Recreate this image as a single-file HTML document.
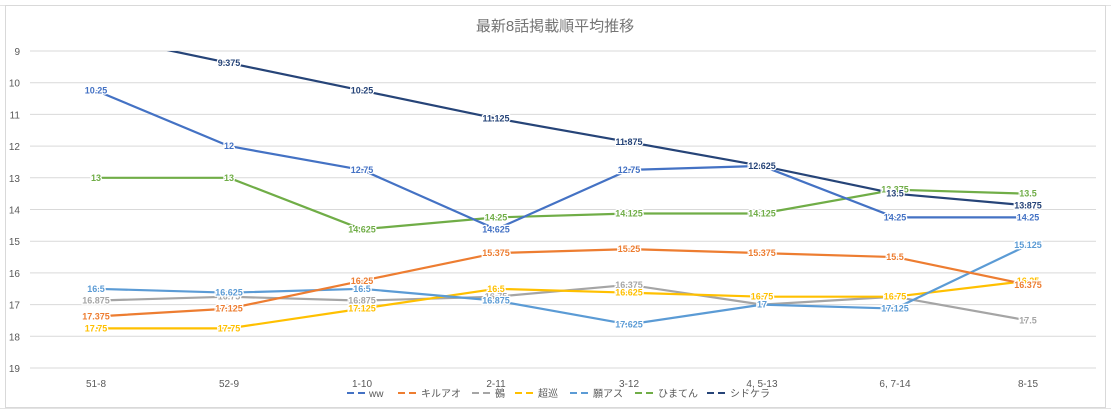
<!DOCTYPE html><html><head><meta charset="utf-8"><style>body{margin:0;background:#fff}svg{display:block}text{font-family:"Liberation Sans","Noto Sans CJK JP",sans-serif}</style></head><body>
<svg width="1111" height="413" viewBox="0 0 1111 413">
<rect x="0" y="0" width="1111" height="413" fill="#fff"/>
<g stroke="#e3e3e3" stroke-width="1">
<line x1="0" y1="5.5" x2="1111" y2="5.5"/><line x1="0" y1="408.5" x2="1111" y2="408.5"/>
</g>
<rect x="5.5" y="5.5" width="1100" height="402" fill="#fff" stroke="#d9d9d9"/>
<text x="555" y="31" font-size="15" fill="#757575" text-anchor="middle">最新8話掲載順平均推移</text>
<g stroke="#d9d9d9" stroke-width="1">
<line x1="30" y1="51" x2="1096" y2="51"/><line x1="30" y1="82.7" x2="1096" y2="82.7"/><line x1="30" y1="114.4" x2="1096" y2="114.4"/><line x1="30" y1="146.1" x2="1096" y2="146.1"/><line x1="30" y1="177.8" x2="1096" y2="177.8"/><line x1="30" y1="209.5" x2="1096" y2="209.5"/><line x1="30" y1="241.2" x2="1096" y2="241.2"/><line x1="30" y1="272.9" x2="1096" y2="272.9"/><line x1="30" y1="304.6" x2="1096" y2="304.6"/><line x1="30" y1="336.3" x2="1096" y2="336.3"/><line x1="30" y1="368" x2="1096" y2="368"/>
</g>
<g font-size="10" fill="#595959" text-anchor="end">
<text x="20" y="55">9</text><text x="20" y="86.7">10</text><text x="20" y="118.4">11</text><text x="20" y="150.1">12</text><text x="20" y="181.8">13</text><text x="20" y="213.5">14</text><text x="20" y="245.2">15</text><text x="20" y="276.9">16</text><text x="20" y="308.6">17</text><text x="20" y="340.3">18</text><text x="20" y="372">19</text>
</g>
<g font-size="10" fill="#595959" text-anchor="middle">
<text x="96" y="387">51-8</text><text x="229" y="387">52-9</text><text x="362" y="387">1-10</text><text x="496" y="387">2-11</text><text x="629" y="387">3-12</text><text x="762" y="387">4, 5-13</text><text x="895" y="387">6, 7-14</text><text x="1028" y="387">8-15</text>
</g>
<defs><clipPath id="c"><rect x="30" y="51" width="1066" height="320"/></clipPath></defs>
<g fill="none" stroke-width="2.2" clip-path="url(#c)" stroke-linejoin="round">
<polyline stroke="#A5A5A5" points="96,300.6 229,296.7 362,300.6 496,296.7 629,284.8 762,304.6 895,296.7 1028,320.5"/>
<polyline stroke="#FFC000" points="96,328.4 229,328.4 362,308.6 496,288.8 629,292.7 762,296.7 895,296.7 1028,280.8"/>
<polyline stroke="#5B9BD5" points="96,288.8 229,292.7 362,288.8 496,300.6 629,324.4 762,304.6 895,308.6 1028,245.1"/>
<polyline stroke="#ED7D31" points="96,316.5 229,308.6 362,280.8 496,253.1 629,249.1 762,253.1 895,257.1 1028,284.8"/>
<polyline stroke="#70AD47" points="96,177.8 229,177.8 362,229.3 496,217.4 629,213.5 762,213.5 895,189.7 1028,193.7"/>
<polyline stroke="#4472C4" points="96,90.6 229,146.1 362,169.9 496,229.3 629,169.9 762,165.9 895,217.4 1028,217.4"/>
<polyline stroke="#264478" points="96,35.15 229,62.9 362,90.6 496,118.4 629,142.1 762,165.9 895,193.7 1028,205.5"/>
</g>
<g font-size="9" font-weight="bold" text-anchor="middle" stroke="#fff" stroke-width="2.5" paint-order="stroke">
<g fill="#A5A5A5"><text x="96" y="303.6">16.875</text><text x="229" y="299.7">16.75</text><text x="362" y="303.6">16.875</text><text x="496" y="299.7">16.75</text><text x="629" y="287.8">16.375</text><text x="762" y="307.6">17</text><text x="895" y="299.7">16.75</text><text x="1028" y="323.5">17.5</text></g>
<g fill="#FFC000"><text x="96" y="331.4">17.75</text><text x="229" y="331.4">17.75</text><text x="362" y="311.6">17.125</text><text x="496" y="291.8">16.5</text><text x="629" y="295.7">16.625</text><text x="762" y="299.7">16.75</text><text x="895" y="299.7">16.75</text><text x="1028" y="283.8">16.25</text></g>
<g fill="#5B9BD5"><text x="96" y="291.8">16.5</text><text x="229" y="295.7">16.625</text><text x="362" y="291.8">16.5</text><text x="496" y="303.6">16.875</text><text x="629" y="327.4">17.625</text><text x="762" y="307.6">17</text><text x="895" y="311.6">17.125</text><text x="1028" y="248.1">15.125</text></g>
<g fill="#ED7D31"><text x="96" y="319.5">17.375</text><text x="229" y="311.6">17.125</text><text x="362" y="283.8">16.25</text><text x="496" y="256.1">15.375</text><text x="629" y="252.1">15.25</text><text x="762" y="256.1">15.375</text><text x="895" y="260.1">15.5</text><text x="1028" y="287.8">16.375</text></g>
<g fill="#70AD47"><text x="96" y="180.8">13</text><text x="229" y="180.8">13</text><text x="362" y="232.3">14.625</text><text x="496" y="220.4">14.25</text><text x="629" y="216.5">14.125</text><text x="762" y="216.5">14.125</text><text x="895" y="192.7">13.375</text><text x="1028" y="196.7">13.5</text></g>
<g fill="#4472C4"><text x="96" y="93.6">10.25</text><text x="229" y="149.1">12</text><text x="362" y="172.9">12.75</text><text x="496" y="232.3">14.625</text><text x="629" y="172.9">12.75</text><text x="762" y="168.9">12.625</text><text x="895" y="220.4">14.25</text><text x="1028" y="220.4">14.25</text></g>
<g fill="#264478"><text x="229" y="65.9">9.375</text><text x="362" y="93.6">10.25</text><text x="496" y="121.4">11.125</text><text x="629" y="145.1">11.875</text><text x="762" y="168.9">12.625</text><text x="895" y="196.7">13.5</text><text x="1028" y="208.5">13.875</text></g>
</g>
<g font-size="10" fill="#595959" stroke-width="2">
<line x1="347" y1="393" x2="367" y2="393" stroke="#4472C4" stroke-dasharray="7,4"/><text x="369" y="397">ww</text>
<line x1="398" y1="393" x2="418" y2="393" stroke="#ED7D31" stroke-dasharray="7,4"/><text x="421" y="397">キルアオ</text>
<line x1="472" y1="393" x2="492" y2="393" stroke="#A5A5A5" stroke-dasharray="7,4"/><text x="495" y="397">鵺</text>
<line x1="515" y1="393" x2="535" y2="393" stroke="#FFC000" stroke-dasharray="7,4"/><text x="538" y="397">超巡</text>
<line x1="570" y1="393" x2="590" y2="393" stroke="#5B9BD5" stroke-dasharray="7,4"/><text x="593" y="397">願アス</text>
<line x1="635" y1="393" x2="655" y2="393" stroke="#70AD47" stroke-dasharray="7,4"/><text x="658" y="397">ひまてん</text>
<line x1="707" y1="393" x2="727" y2="393" stroke="#264478" stroke-dasharray="7,4"/><text x="730" y="397">シドケラ</text>
</g>
</svg></body></html>
